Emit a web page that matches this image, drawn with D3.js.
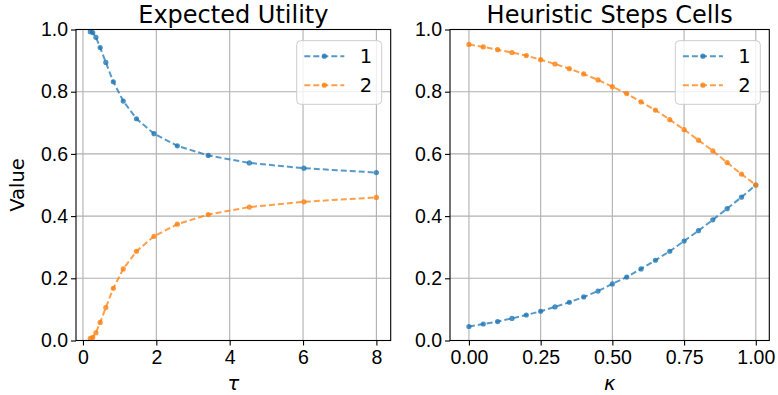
<!DOCTYPE html>
<html>
<head>
<meta charset="utf-8">
<script src="https://cdn.jsdelivr.net/npm/d3@7/dist/d3.min.js"></script>
<style>
    body { margin: 0; background: #fff; }
    svg { display: block; font-family: "DejaVu Sans", sans-serif; }
    .tick text { font-size: 19.5px; fill: #000; }
    .domain { display: none; }
</style>
</head>
<body>
<div id="chart"></div>
<script>
// --- data ---
const tau = [0.2, 0.266, 0.353, 0.469, 0.623, 0.827, 1.098, 1.458, 1.937, 2.572, 3.416, 4.537, 6.024, 8.0];
const utility1 = [0.993, 0.990, 0.975, 0.942, 0.894, 0.832, 0.770, 0.713, 0.665, 0.626, 0.595, 0.571, 0.554, 0.540];
const utility2 = [0.007, 0.010, 0.025, 0.058, 0.106, 0.168, 0.230, 0.287, 0.335, 0.374, 0.405, 0.429, 0.446, 0.460];

const kappa = [0.00, 0.05, 0.10, 0.15, 0.20, 0.25, 0.30, 0.35, 0.40, 0.45, 0.50,
               0.55, 0.60, 0.65, 0.70, 0.75, 0.80, 0.85, 0.90, 0.95, 1.00];
const steps1 = [0.045, 0.053, 0.061, 0.071, 0.082, 0.094, 0.108, 0.123, 0.140, 0.159, 0.182,
                0.204, 0.230, 0.258, 0.287, 0.320, 0.353, 0.388, 0.424, 0.461, 0.500];
const steps2 = [0.952, 0.944, 0.935, 0.926, 0.916, 0.903, 0.889, 0.874, 0.857, 0.838, 0.816,
                0.794, 0.767, 0.741, 0.710, 0.678, 0.644, 0.610, 0.572, 0.535, 0.500];

const tauTicks = [0, 2, 4, 6, 8];
const kappaTicks = [0, 0.25, 0.5, 0.75, 1.0];
const valueTicks = [0, 0.2, 0.4, 0.6, 0.8, 1.0];
const seriesNames = ["1", "2"];
const colors = ["#1f77b4", "#ff7f0e"];

const W = 778, H = 395;
const plotTop = 29.5, plotBottom = 340.5;

const svg = d3.select("#chart").append("svg")
    .attr("width", W)
    .attr("height", H);

function drawPanel(opts) {
    var x = d3.scaleLinear().domain(opts.xDomain).range([opts.left, opts.right]);
    var y = d3.scaleLinear().domain([0, 1]).range([plotBottom, plotTop]);
    var g = svg.append("g");

    // grid
    g.append("g").selectAll("line")
        .data(opts.xTicks).enter()
        .append("line")
        .attr("x1", d => x(d)).attr("x2", d => x(d))
        .attr("y1", plotTop).attr("y2", plotBottom)
        .attr("stroke", "#b0b0b0").attr("stroke-width", 1.1);
    g.append("g").selectAll("line")
        .data(valueTicks).enter()
        .append("line")
        .attr("x1", opts.left).attr("x2", opts.right)
        .attr("y1", d => y(d)).attr("y2", d => y(d))
        .attr("stroke", "#b0b0b0").attr("stroke-width", 1.1);

    // series
    var line = d3.line().x(d => x(d[0])).y(d => y(d[1]));
    opts.series.forEach(function (s, i) {
        var pts = opts.xs.map((v, j) => [v, s[j]]);
        g.append("path")
            .datum(pts)
            .attr("d", line)
            .attr("fill", "none")
            .attr("stroke", colors[i])
            .attr("stroke-width", 2)
            .attr("stroke-dasharray", "6,3")
            .attr("opacity", 0.75);
        g.append("g").selectAll("circle")
            .data(pts).enter()
            .append("circle")
            .attr("cx", d => x(d[0]))
            .attr("cy", d => y(d[1]))
            .attr("r", 2.6)
            .attr("fill", colors[i])
            .attr("opacity", 0.8);
    });

    // axes
    g.append("g")
        .attr("transform", "translate(0," + plotBottom + ")")
        .call(d3.axisBottom(x).tickValues(opts.xTicks).tickFormat(opts.xFormat).tickSize(5).tickPadding(5))
        .call(a => a.selectAll(".tick line").attr("stroke", "#000").attr("stroke-width", 1.1));
    g.append("g")
        .attr("transform", "translate(" + opts.left + ",0)")
        .call(d3.axisLeft(y).tickValues(valueTicks).tickFormat(d3.format(".1f")).tickSize(5).tickPadding(3))
        .call(a => a.selectAll(".tick line").attr("stroke", "#000").attr("stroke-width", 1.1));

    // frame
    g.append("rect")
        .attr("x", opts.left).attr("y", plotTop)
        .attr("width", opts.right - opts.left).attr("height", plotBottom - plotTop)
        .attr("fill", "none").attr("stroke", "#000").attr("stroke-width", 1.1);

    // title and labels
    var cx = (opts.left + opts.right) / 2;
    g.append("text")
        .attr("x", cx).attr("y", 22.5)
        .attr("text-anchor", "middle")
        .style("font-size", "24px")
        .text(opts.title);
    g.append("text")
        .attr("x", cx).attr("y", 390)
        .attr("text-anchor", "middle")
        .style("font-size", "19.5px")
        .style("font-style", "italic")
        .text(opts.xLabel);

    // legend
    var lx = opts.right - 94, ly = plotTop + 11.2;
    var legend = g.append("g").attr("transform", "translate(" + lx + "," + ly + ")");
    legend.append("rect")
        .attr("width", 85).attr("height", 63.6)
        .attr("rx", 4)
        .attr("fill", "#fff").attr("fill-opacity", 0.8)
        .attr("stroke", "#cccccc").attr("stroke-width", 1);
    seriesNames.forEach(function (name, i) {
        var ry = 15.5 + i * 29;
        legend.append("line")
            .attr("x1", 7.6).attr("x2", 47.6)
            .attr("y1", ry).attr("y2", ry)
            .attr("stroke", colors[i]).attr("stroke-width", 2)
            .attr("stroke-dasharray", "6,3")
            .attr("opacity", 0.75);
        legend.append("circle")
            .attr("cx", 27.6).attr("cy", ry).attr("r", 2.6)
            .attr("fill", colors[i]).attr("opacity", 0.8);
        legend.append("text")
            .attr("x", 63).attr("y", ry + 7)
            .style("font-size", "19.5px")
            .text(name);
    });
}

drawPanel({
    left: 76, right: 390.7,
    xDomain: [-0.19, 8.39],
    xTicks: tauTicks,
    xFormat: d3.format("d"),
    xs: tau,
    series: [utility1, utility2],
    title: "Expected Utility",
    xLabel: "τ"
});

drawPanel({
    left: 450, right: 769.3,
    xDomain: [-0.066, 1.047],
    xTicks: kappaTicks,
    xFormat: d3.format(".2f"),
    xs: kappa,
    series: [steps1, steps2],
    title: "Heuristic Steps Cells",
    xLabel: "κ"
});

svg.append("text")
    .attr("transform", "translate(23.5," + (plotTop + plotBottom) / 2 + ") rotate(-90)")
    .attr("text-anchor", "middle")
    .style("font-size", "19.5px")
    .text("Value");
</script>
</body>
</html>
